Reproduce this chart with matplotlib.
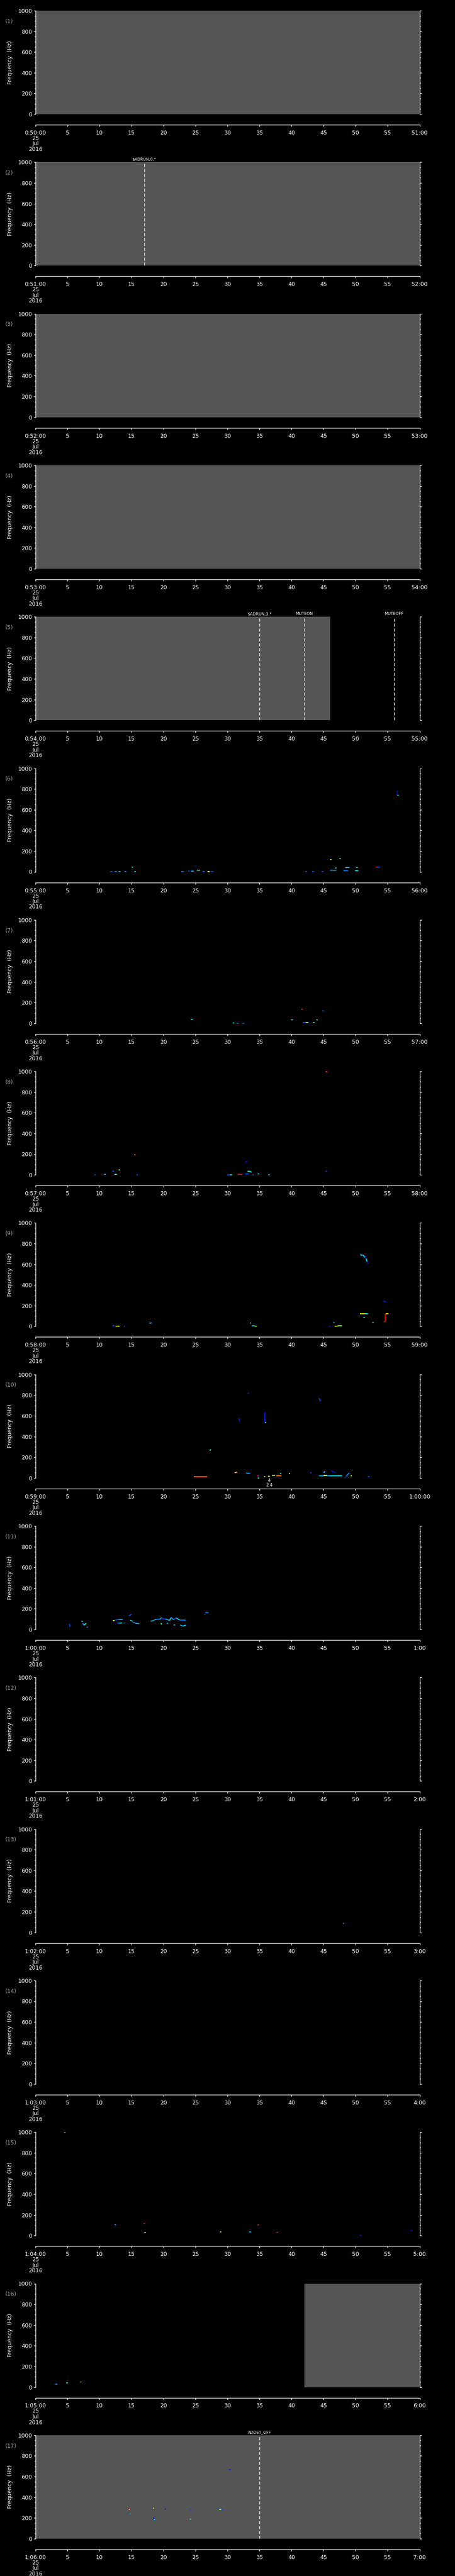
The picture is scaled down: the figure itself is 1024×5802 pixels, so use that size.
import numpy as np
import matplotlib
matplotlib.use("Agg")
import matplotlib.pyplot as plt
from matplotlib.ticker import MultipleLocator

plt.rcParams["font.family"] = ["DejaVu Sans"]

# time axis labels for the 17 one-minute strips
start_labels = ["0:50:00", "0:51:00", "0:52:00", "0:53:00", "0:54:00", "0:55:00",
                "0:56:00", "0:57:00", "0:58:00", "0:59:00", "1:00:00", "1:01:00",
                "1:02:00", "1:03:00", "1:04:00", "1:05:00", "1:06:00"]
end_labels = ["51:00", "52:00", "53:00", "54:00", "55:00", "56:00", "57:00", "58:00",
              "59:00", "1:00:00", "1:00", "2:00", "3:00", "4:00", "5:00", "6:00", "7:00"]
date_label = "25\nJul\n2016"

# grey = no data (panel, t start, t end) in seconds
gray_panel = [1, 2, 3, 4, 5, 16, 17]
gray_t0 = [0, 0, 0, 0, 0, 42, 0]
gray_t1 = [60, 60, 60, 60, 46, 60, 60]

# event markers
event_panel = [2, 5, 5, 5, 17]
event_time = [17.0, 35.0, 42.0, 56.0, 35.0]
event_label = ["$ADRUN,0,*", "$ADRUN,3,*", "MUTEON", "MUTEOFF", "ADDET_OFF"]

# detections: (t0, t1, f0, f1, colour level 0..1)
marks_06 = [(11.7, 12.0, 2, 2, 0.2), (12.4, 12.7, 2, 2, 0.25), (13.0, 13.3, 2, 2, 0.3),
            (13.9, 14.2, 2, 2, 0.25), (15.4, 15.7, 2, 2, 0.3), (15.1, 15.2, 50, 40, 0.35),
            (22.8, 23.1, 3, 3, 0.25), (23.8, 24.1, 5, 5, 0.2), (24.3, 24.7, 5, 5, 0.3),
            (24.9, 25.1, 53, 53, 0.15), (25.2, 25.7, 14, 14, 0.45), (26.1, 26.4, 1, 1, 0.25),
            (26.9, 27.2, 1, 1, 0.65), (27.4, 27.8, 1, 1, 0.2), (42.1, 42.4, 4, 4, 0.2),
            (43.2, 43.5, 1, 1, 0.2), (44.7, 45.0, 1, 1, 0.2), (46.0, 46.2, 120, 120, 0.6),
            (47.5, 47.7, 127, 127, 0.4), (46.0, 47.0, 14, 14, 0.3), (46.8, 47.0, 34, 38, 0.45),
            (48.1, 48.8, 10, 12, 0.25), (48.4, 49.0, 39, 39, 0.3), (49.9, 50.4, 9, 9, 0.35),
            (50.1, 50.3, 39, 39, 0.4), (53.1, 53.4, 47, 47, 0.9), (53.4, 53.8, 47, 47, 0.2),
            (56.5, 56.5, 786, 740, 0.1), (56.5, 56.7, 742, 742, 0.35)]
marks_07 = [(24.3, 24.6, 37, 37, 0.35), (30.8, 31.0, 3, 3, 0.35), (31.4, 31.7, 0, 0, 0.2),
            (32.3, 32.6, 0, 0, 0.2), (41.5, 41.7, 136, 136, 0.85), (44.8, 45.1, 119, 119, 0.2),
            (39.9, 40.2, 33, 33, 0.35), (41.7, 42.2, 7, 7, 0.2), (42.2, 42.6, 7, 7, 0.55),
            (43.3, 43.6, 7, 7, 0.35), (43.9, 44.1, 33, 33, 0.45)]
marks_08 = [(45.3, 45.6, 996, 996, 0.8), (15.4, 15.6, 192, 192, 0.8), (32.8, 33.0, 118, 132, 0.15),
            (9.2, 9.4, 0, 0, 0.2), (10.7, 11.0, 3, 3, 0.3), (12.0, 12.3, 37, 34, 0.2),
            (12.4, 12.7, 3, 3, 0.4), (13.0, 13.2, 47, 47, 0.5), (15.8, 16.0, 0, 0, 0.2),
            (29.9, 30.4, 0, 0, 0.2), (30.4, 30.7, 0, 0, 0.4), (31.6, 32.3, 3, 3, 0.9),
            (32.8, 33.3, 8, 8, 0.2), (33.1, 33.6, 34, 34, 0.4), (33.6, 33.7, 34, 22, 0.35),
            (33.9, 34.1, 0, 0, 0.2), (34.7, 34.9, 8, 8, 0.35), (36.4, 36.6, 0, 0, 0.35),
            (45.3, 45.5, 34, 34, 0.2)]
marks_09 = [(12.0, 12.4, 6, 6, 0.2), (12.5, 13.1, 1, 1, 0.6), (13.8, 14.0, 1, 1, 0.2),
            (17.8, 18.1, 31, 31, 0.35), (33.5, 33.7, 31, 31, 0.5), (33.8, 34.2, 6, 6, 0.35),
            (34.2, 34.6, 2, 2, 0.6), (45.9, 46.1, 0, 0, 0.15), (46.5, 46.7, 37, 37, 0.3),
            (46.7, 47.2, 3, 3, 0.6), (47.2, 47.9, 5, 5, 0.5), (50.7, 51.4, 123, 123, 0.65),
            (51.4, 51.9, 123, 123, 0.4), (51.2, 51.4, 87, 87, 0.35), (52.6, 52.8, 34, 34, 0.45),
            (50.8, 50.9, 700, 680, 0.35), (50.9, 51.2, 690, 690, 0.3), (51.2, 51.4, 690, 665, 0.35),
            (51.4, 51.6, 665, 680, 0.2), (51.6, 51.8, 660, 625, 0.35), (51.8, 51.9, 625, 605, 0.15),
            (54.3, 54.7, 245, 235, 0.15), (54.4, 54.6, 44, 44, 0.9), (54.6, 54.6, 44, 121, 0.9),
            (54.7, 55.1, 121, 121, 0.65)]
marks_10 = [(24.7, 26.8, 13, 13, 0.8), (27.2, 27.4, 265, 275, 0.4), (31.1, 31.5, 50, 53, 0.7),
            (31.7, 31.9, 577, 549, 0.15), (33.1, 33.3, 817, 817, 0.15), (32.9, 33.5, 47, 43, 0.3),
            (35.8, 35.8, 635, 534, 0.15), (35.8, 36.0, 534, 534, 0.4), (34.6, 34.8, 21, 21, 0.9),
            (34.8, 35.0, 21, 21, 0.2), (34.7, 34.9, 0, 0, 0.4), (35.7, 35.9, 13, 13, 0.6),
            (36.3, 36.6, 17, 17, 0.65), (36.9, 37.4, 26, 26, 0.62), (37.6, 38.4, 21, 21, 0.75),
            (38.2, 38.4, 43, 43, 0.4), (39.6, 39.8, 40, 40, 0.6), (42.9, 43.1, 53, 47, 0.2),
            (44.3, 44.5, 771, 742, 0.2), (44.3, 46.0, 21, 21, 0.3), (45.0, 45.5, 23, 23, 0.65),
            (46.0, 47.9, 21, 21, 0.35), (45.0, 45.2, 50, 64, 0.35), (46.2, 46.8, 69, 50, 0.15),
            (48.2, 48.5, 0, 5, 0.15), (48.5, 49.0, 12, 50, 0.25), (49.2, 49.4, 19, 19, 0.55),
            (49.4, 49.5, 75, 75, 0.4), (51.9, 52.2, 13, 13, 0.2)]
marks_11 = [(5.3, 5.4, 53, 24, 0.2), (7.2, 7.4, 82, 75, 0.35), (7.4, 7.6, 60, 40, 0.3),
            (7.6, 7.9, 40, 60, 0.4), (8.0, 8.2, 20, 20, 0.25), (12.1, 12.4, 85, 85, 0.6),
            (12.4, 13.0, 90, 96, 0.2), (13.0, 13.6, 96, 96, 0.3), (12.8, 13.1, 64, 58, 0.25),
            (13.1, 13.5, 60, 64, 0.35), (13.8, 14.0, 60, 64, 0.2), (14.6, 15.0, 132, 145, 0.2),
            (14.8, 15.2, 89, 78, 0.35), (15.2, 15.6, 70, 65, 0.25), (15.6, 16.2, 60, 55, 0.3),
            (18.0, 18.5, 80, 85, 0.35), (18.5, 19.0, 90, 100, 0.3), (19.0, 19.4, 100, 98, 0.25),
            (19.4, 19.7, 98, 115, 0.3), (19.7, 20.3, 105, 100, 0.2), (20.3, 20.9, 100, 88, 0.3),
            (20.9, 21.2, 85, 115, 0.35), (21.2, 21.6, 115, 92, 0.3), (21.6, 22.0, 95, 115, 0.2),
            (22.0, 22.5, 110, 92, 0.35), (22.5, 23.5, 92, 92, 0.25), (19.6, 19.7, 62, 48, 0.4),
            (20.5, 20.7, 55, 62, 0.3), (21.6, 21.8, 44, 44, 0.35), (22.6, 23.0, 44, 32, 0.3),
            (23.0, 23.5, 32, 42, 0.35), (26.4, 26.5, 145, 139, 0.2), (26.5, 27.0, 164, 164, 0.25)]
marks_13 = [(48.0, 48.2, 89, 89, 0.3)]
marks_15 = [(4.5, 4.7, 997, 997, 0.45), (12.4, 12.6, 102, 102, 0.3), (16.9, 17.1, 118, 115, 0.9),
            (17.0, 17.2, 33, 33, 0.5), (28.8, 29.0, 37, 37, 0.55), (33.4, 33.6, 37, 37, 0.35),
            (33.6, 33.7, 34, 29, 0.2), (34.7, 34.9, 106, 106, 0.85), (37.6, 37.9, 33, 33, 0.9),
            (50.7, 50.9, 0, 0, 0.15), (58.6, 58.8, 50, 50, 0.15)]
marks_16 = [(3.1, 3.4, 26, 26, 0.25), (4.8, 5.1, 40, 40, 0.35), (7.0, 7.2, 49, 49, 0.6)]
marks_17 = [(14.5, 14.6, 294, 283, 0.9), (14.6, 14.7, 283, 283, 0.6), (14.6, 14.7, 250, 241, 0.2),
            (14.7, 14.8, 241, 241, 0.35), (18.4, 18.5, 298, 290, 0.6), (18.5, 18.5, 207, 184, 0.15),
            (18.5, 18.7, 184, 184, 0.4), (20.2, 20.4, 287, 287, 0.15), (24.1, 24.4, 283, 275, 0.2),
            (24.1, 24.3, 188, 188, 0.4), (28.5, 28.7, 294, 279, 0.2), (28.7, 29.0, 281, 281, 0.55),
            (29.0, 29.3, 281, 281, 0.2), (30.3, 30.4, 671, 655, 0.2), (30.3, 30.5, 667, 667, 0.1)]

marks = {6: marks_06, 7: marks_07, 8: marks_08, 9: marks_09, 10: marks_10, 11: marks_11,
         13: marks_13, 15: marks_15, 16: marks_16, 17: marks_17}

W, H = 1024, 5802
PT = 0.72  # points per pixel at dpi 100
fig = plt.figure(figsize=(W / 100, H / 100), dpi=100, facecolor="black")
jet = plt.get_cmap("jet")
xt = np.arange(0, 61, 5)

for k in range(1, 18):
    top = 24 + (k - 1) * 341.3
    ax = fig.add_axes([79.7 / W, 1 - (top + 233) / H, 864.8 / W, 233 / H])
    ax.set_facecolor("black")
    ax.set_xlim(0, 60)
    ax.set_ylim(0, 1000)

    for p, a, b in zip(gray_panel, gray_t0, gray_t1):
        if p == k:
            ax.axvspan(a, b, color="#555555", lw=0, zorder=0)

    for t0, t1, f0, f1, c in marks.get(k, []):
        ax.plot([t0, t1], [f0, f1], color=jet(c), lw=1.5, solid_capstyle="butt",
                zorder=3, clip_on=False)

    for p, t, lab in zip(event_panel, event_time, event_label):
        if p == k:
            ax.axvline(t, color="white", lw=1, ls=(0, (5, 3)), zorder=4)
            ax.annotate(lab, xy=(t, 1), xycoords=("data", "axes fraction"),
                        xytext=(0, 2 * PT), textcoords="offset points",
                        ha="center", va="bottom", fontsize=6.5, color="white")

    if k == 10:
        ax.annotate("4", xy=(36.5, 0), xycoords=("data", "axes fraction"),
                    xytext=(0, -6 * PT), textcoords="offset points",
                    ha="center", va="center", fontsize=7, color="white")
        ax.annotate("2.4", xy=(36.5, 0), xycoords=("data", "axes fraction"),
                    xytext=(0, -16 * PT), textcoords="offset points",
                    ha="center", va="center", fontsize=7, color="white")

    for s in ["left", "right", "bottom"]:
        ax.spines[s].set_color("white")
        ax.spines[s].set_linewidth(1)
    ax.spines["top"].set_visible(False)
    ax.spines["bottom"].set_position(("outward", 24 * PT))

    ax.yaxis.set_major_locator(MultipleLocator(200))
    ax.yaxis.set_minor_locator(MultipleLocator(50))
    ax.tick_params(axis="y", which="both", direction="out", colors="white",
                   left=True, right=True, labelsize=9, width=1, pad=2.5)
    ax.tick_params(axis="y", which="major", length=4 * PT)
    ax.tick_params(axis="y", which="minor", length=2 * PT)

    labels = [start_labels[k - 1]] + [str(v) for v in xt[1:-1]] + [end_labels[k - 1]]
    ax.set_xticks(xt, labels)
    ax.tick_params(axis="x", direction="out", colors="white", length=4 * PT,
                   width=1, pad=8 * PT, labelsize=9)
    ax.annotate(date_label, xy=(0, 0), xycoords=("data", "axes fraction"),
                xytext=(0, -48 * PT), textcoords="offset points", ha="center",
                va="top", fontsize=9, color="white", linespacing=0.95)

    ax.text(-0.0667, 0.5, "Frequency  (Hz)", rotation=90, transform=ax.transAxes,
            ha="center", va="center", fontsize=9, color="white")
    ax.text(-0.078, 0.896, f"({k})", transform=ax.transAxes, ha="left",
            va="center", fontsize=9, color="#a0a0a0")

fig.savefig("out.png", dpi=100, facecolor="black")
